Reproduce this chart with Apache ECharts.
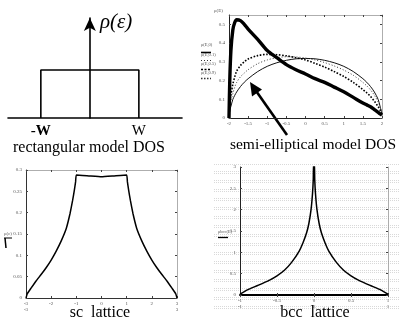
<!DOCTYPE html>
<html><head><meta charset="utf-8">
<script src="https://cdn.jsdelivr.net/npm/echarts@6/dist/echarts.min.js"></script>
<style>html,body{margin:0;padding:0;background:#fff}#c{width:400px;height:325px}</style>
</head><body><div id="c"></div><script>
// ---- data ----
// rectangular model
const rectX = [-1, -1, 1, 1];
const rectY = [0, 1, 1, 0];
const rectTickValues = [-1, 1];
const rectTickLabels = ['-W', 'W'];
// semi-elliptical model (E from -2 to 2)
const seE = [-2, -1.98, -1.95, -1.9, -1.85, -1.8, -1.7, -1.6, -1.5, -1.25, -1, -0.75, -0.5, -0.25, 0, 0.25, 0.5, 0.75, 1, 1.25, 1.5, 1.6, 1.7, 1.8, 1.9, 1.95, 2];
const seThick = [0, 0.2, 0.36, 0.47, 0.51, 0.525, 0.52, 0.5, 0.475, 0.42, 0.36, 0.322, 0.285, 0.258, 0.235, 0.21, 0.19, 0.165, 0.14, 0.11, 0.08, 0.07, 0.06, 0.045, 0.03, 0.022, 0.015];
const seDotHeavy = [0, 0.07, 0.12, 0.18, 0.22, 0.25, 0.28, 0.3, 0.315, 0.333, 0.34, 0.338, 0.332, 0.322, 0.31, 0.292, 0.272, 0.248, 0.222, 0.19, 0.152, 0.135, 0.115, 0.09, 0.06, 0.042, 0.02];
const seDotThin = [0, 0.05, 0.09, 0.13, 0.165, 0.19, 0.22, 0.24, 0.258, 0.29, 0.31, 0.322, 0.327, 0.326, 0.32, 0.31, 0.296, 0.278, 0.256, 0.228, 0.19, 0.172, 0.15, 0.122, 0.085, 0.06, 0.03];
const seSemi = [0, 0.04, 0.062, 0.099, 0.121, 0.139, 0.168, 0.191, 0.21, 0.248, 0.276, 0.295, 0.308, 0.316, 0.318, 0.316, 0.308, 0.295, 0.276, 0.248, 0.21, 0.191, 0.168, 0.139, 0.099, 0.062, 0.02];
const seTicks = ['-2', '-1.5', '-1', '-0.5', '0', '0.5', '1', '1.5', '2'];
// sc lattice (E from -3 to 3)
const scE = [-3, -2.95, -2.8, -2.6, -2.4, -2.2, -2, -1.8, -1.6, -1.4, -1.25, -1.15, -1.08, -1.03, -1, -0.5, 0, 0.5, 1, 1.03, 1.08, 1.15, 1.25, 1.4, 1.6, 1.8, 2, 2.2, 2.4, 2.6, 2.8, 2.95, 3];
const scRho = [0, 0.01, 0.023, 0.04, 0.055, 0.071, 0.089, 0.11, 0.134, 0.163, 0.198, 0.228, 0.252, 0.272, 0.288, 0.286, 0.284, 0.286, 0.288, 0.272, 0.252, 0.228, 0.198, 0.163, 0.134, 0.11, 0.089, 0.071, 0.055, 0.04, 0.023, 0.01, 0];
// bcc lattice (E from -1 to 1)
const bccE = [-1, -0.9, -0.75, -0.6, -0.5, -0.4, -0.3, -0.2, -0.15, -0.1, -0.07, -0.04, -0.02, -0.01, -0.005, 0.005, 0.01, 0.02, 0.04, 0.07, 0.1, 0.15, 0.2, 0.3, 0.4, 0.5, 0.6, 0.75, 0.9, 1];
const bccRho = [0.02, 0.12, 0.23, 0.35, 0.45, 0.58, 0.77, 1.03, 1.22, 1.46, 1.67, 2.0, 2.38, 2.7, 3.1, 3.1, 2.7, 2.38, 2.0, 1.67, 1.46, 1.22, 1.03, 0.77, 0.58, 0.45, 0.35, 0.23, 0.12, 0.02];

const zip = (a, b) => a.map((v, i) => [v, b[i]]);

// ---- halftone background pattern for bcc panel ----
const pc = document.createElement('canvas');
pc.width = 2; pc.height = 9;
const pg = pc.getContext('2d');
pg.fillStyle = 'rgba(0,0,0,0.15)';
pg.fillRect(0, 0, 1, 1);
pg.fillRect(0, 2, 1, 1);

const serif = 'Liberation Serif';
const tiny = { fontFamily: serif, fontSize: 5, color: '#555' };

function tickAxisBase(gridIndex, min, max, interval, pos) {
  return {
    type: 'value', gridIndex, min, max, interval, position: pos,
    axisLine: { show: true, onZero: false, lineStyle: { color: '#999', width: 0.8 } },
    axisTick: { show: true, inside: true, length: 2, lineStyle: { color: '#444' } },
    axisLabel: { show: false }, splitLine: { show: false }
  };
}

const chart = echarts.init(document.getElementById('c'), null, { renderer: 'canvas' });
chart.setOption({
  animation: false,
  backgroundColor: '#fff',
  grid: [
    { left: 8, top: 18, width: 174, height: 100 },
    { left: 229, top: 15, width: 153, height: 103 },
    { left: 26, top: 170, width: 151, height: 128 },
    { left: 240, top: 167, width: 148, height: 128 }
  ],
  xAxis: [
    { type: 'value', gridIndex: 0, min: -1.67, max: 1.88,
      axisLine: { show: true, onZero: true, lineStyle: { color: '#000', width: 1.6 } },
      axisTick: { show: false }, splitLine: { show: false },
      axisLabel: { show: true, customValues: rectTickValues, margin: 6,
        formatter: v => v < 0 ? '{b|' + rectTickLabels[0] + '}' : rectTickLabels[1],
        rich: { b: { fontFamily: serif, fontSize: 15, fontWeight: 'bold', color: '#000' } },
        fontFamily: serif, fontSize: 15, color: '#000' } },
    { type: 'value', gridIndex: 1, min: -2, max: 2, interval: 0.5, position: 'bottom',
      axisLine: { show: true, onZero: false, lineStyle: { color: '#222', width: 1 } },
      axisTick: { show: true, inside: true, length: 2, lineStyle: { color: '#444' } },
      splitLine: { show: false },
      axisLabel: Object.assign({ margin: 3, formatter: v => seTicks[Math.round((v + 2) / 0.5)] }, tiny) },
    tickAxisBase(1, -2, 2, 0.5, 'top'),
    { type: 'value', gridIndex: 2, min: -3, max: 3, interval: 1, position: 'bottom',
      axisLine: { show: true, onZero: false, lineStyle: { color: '#333', width: 1 } },
      axisTick: { show: true, inside: true, length: 2, lineStyle: { color: '#444' } },
      splitLine: { show: false },
      axisLabel: Object.assign({ margin: 3, lineHeight: 6,
        formatter: v => v === -3 ? '-3\n-3' : v === 3 ? '3\n3' : v === 0 ? '0\nε' : String(v) }, tiny) },
    tickAxisBase(2, -3, 3, 1, 'top'),
    { type: 'value', gridIndex: 3, min: -1, max: 1, interval: 0.5, position: 'bottom',
      axisLine: { show: true, onZero: false, lineStyle: { color: '#000', width: 2 } },
      axisTick: { show: true, inside: true, length: 2, lineStyle: { color: '#444' } },
      splitLine: { show: false },
      axisLabel: Object.assign({ margin: 3, lineHeight: 6,
        formatter: v => v === -1 ? '-1\n-1' : v === 1 ? '1\n1' : v === 0 ? '0\nE' : String(v) }, tiny) },
    Object.assign(tickAxisBase(3, -1, 1, 0.5, 'top'), { axisLine: { show: false } })
  ],
  yAxis: [
    { type: 'value', gridIndex: 0, min: 0, max: 2.083,
      axisLine: { show: true, onZero: true, symbol: ['none', 'arrow'], symbolSize: [9, 13],
        lineStyle: { color: '#000', width: 1.6 } },
      axisTick: { show: false }, axisLabel: { show: false }, splitLine: { show: false } },
    { type: 'value', gridIndex: 1, min: 0, max: 0.55, interval: 0.1, position: 'left',
      name: 'ρ(E)', nameGap: 2, nameTextStyle: Object.assign({ align: 'right', padding: [0, 6, 0, 0] }, tiny),
      axisLine: { show: true, onZero: false, lineStyle: { color: '#222', width: 1 } },
      axisTick: { show: true, inside: true, length: 2, lineStyle: { color: '#444' } },
      splitLine: { show: false },
      axisLabel: Object.assign({ margin: 4, showMaxLabel: false }, tiny) },
    tickAxisBase(1, 0, 0.55, 0.1, 'right'),
    { type: 'value', gridIndex: 2, min: 0, max: 0.3, interval: 0.05, position: 'left',
      axisLine: { show: true, onZero: false, lineStyle: { color: '#333', width: 1 } },
      axisTick: { show: true, inside: true, length: 2, lineStyle: { color: '#444' } },
      splitLine: { show: false },
      axisLabel: Object.assign({ margin: 4 }, tiny) },
    tickAxisBase(2, 0, 0.3, 0.05, 'right'),
    { type: 'value', gridIndex: 3, min: 0, max: 3, interval: 0.5, position: 'left',
      axisLine: { show: true, onZero: false, lineStyle: { color: '#222', width: 1 } },
      axisTick: { show: true, inside: true, length: 2, lineStyle: { color: '#444' } },
      splitLine: { show: false },
      axisLabel: Object.assign({ margin: 4 }, tiny) },
    tickAxisBase(3, 0, 3, 0.5, 'right')
  ],
  series: [
    { type: 'line', xAxisIndex: 0, yAxisIndex: 0, data: zip(rectX, rectY), symbol: 'none',
      lineStyle: { color: '#000', width: 1.6 }, z: 3 },
    { type: 'line', xAxisIndex: 1, yAxisIndex: 1, data: zip(seE, seSemi), symbol: 'none', smooth: 0.3,
      lineStyle: { color: '#111', width: 1 } },
    { type: 'line', xAxisIndex: 1, yAxisIndex: 1, data: zip(seE, seDotThin), symbol: 'none', smooth: 0.3,
      lineStyle: { color: '#222', width: 0.9, type: [1, 2] } },
    { type: 'line', xAxisIndex: 1, yAxisIndex: 1, data: zip(seE, seDotHeavy), symbol: 'none', smooth: 0.3,
      lineStyle: { color: '#000', width: 1.6, type: [1.6, 1.6] } },
    { type: 'line', xAxisIndex: 1, yAxisIndex: 1, data: zip(seE, seThick), symbol: 'none', smooth: 0.3,
      lineStyle: { color: '#000', width: 3.4 } },
    { type: 'line', xAxisIndex: 3, yAxisIndex: 3, data: zip(scE, scRho), symbol: 'none', smooth: 0.1,
      lineStyle: { color: '#000', width: 1.5 } },
    { type: 'line', xAxisIndex: 5, yAxisIndex: 5, data: zip(bccE, bccRho), symbol: 'none', smooth: 0.2, clip: true,
      lineStyle: { color: '#000', width: 1.5 } }
  ],
  graphic: [
    { type: 'rect', z: -10, silent: true, shape: { x: 213, y: 163, width: 187, height: 147 },
      style: { fill: { image: pc, repeat: 'repeat' } } },
    { type: 'text', left: 100, top: 12, style: { text: 'ρ(ε)', fontFamily: serif, fontStyle: 'italic', fontSize: 21, fill: '#000' } },
    { type: 'text', x: 89, y: 148, style: { text: 'rectangular model DOS', fontFamily: serif, fontSize: 16, fill: '#000', align: 'center', verticalAlign: 'middle' } },
    { type: 'text', x: 313, y: 145, style: { text: 'semi-elliptical model DOS', fontFamily: serif, fontSize: 15.5, fill: '#000', align: 'center', verticalAlign: 'middle' } },
    { type: 'text', x: 100, y: 313, style: { text: 'sc  lattice', fontFamily: serif, fontSize: 16, fill: '#000', align: 'center', verticalAlign: 'middle' } },
    { type: 'text', x: 315, y: 313, style: { text: 'bcc  lattice', fontFamily: serif, fontSize: 16, fill: '#000', align: 'center', verticalAlign: 'middle' } },
    // arrow in semi-elliptical panel
    { type: 'line', shape: { x1: 287, y1: 135, x2: 254, y2: 88 }, style: { stroke: '#000', lineWidth: 2.6 } },
    { type: 'polygon', shape: { points: [[250, 82], [262, 89.5], [252, 96.5]] }, style: { fill: '#000' } },
    // legend of semi-elliptical panel
    { type: 'text', x: 201, y: 45, style: { text: 'ρ(E,0)', verticalAlign: 'middle', fill: '#555', fontSize: 4.5, fontFamily: serif } },
    { type: 'line', shape: { x1: 201, y1: 52.5, x2: 211, y2: 52.5 }, style: { stroke: '#000', lineWidth: 1.6 } },
    { type: 'text', x: 201, y: 55, style: { text: 'ρ(E,0.1)', verticalAlign: 'middle', fill: '#555', fontSize: 4.5, fontFamily: serif } },
    { type: 'line', shape: { x1: 201, y1: 60.5, x2: 211, y2: 60.5 }, style: { stroke: '#333', lineWidth: 1, lineDash: [1, 2] } },
    { type: 'text', x: 201, y: 64, style: { text: 'ρ(E,0.5)', verticalAlign: 'middle', fill: '#555', fontSize: 4.5, fontFamily: serif } },
    { type: 'line', shape: { x1: 201, y1: 69.5, x2: 211, y2: 69.5 }, style: { stroke: '#000', lineWidth: 1.3, lineDash: [2, 1.5] } },
    { type: 'text', x: 201, y: 73, style: { text: 'ρ(E,0.9)', verticalAlign: 'middle', fill: '#555', fontSize: 4.5, fontFamily: serif } },
    { type: 'line', shape: { x1: 201, y1: 78.5, x2: 211, y2: 78.5 }, style: { stroke: '#333', lineWidth: 1.6, lineDash: [1.5, 1.5] } },
    // sc legend
    { type: 'text', x: 4, y: 234, style: { text: 'ρ(ε)', verticalAlign: 'middle', fill: '#555', fontSize: 5, fontFamily: serif } },
    { type: 'line', shape: { x1: 4, y1: 238, x2: 12, y2: 238 }, style: { stroke: '#000', lineWidth: 1 } },
    { type: 'line', shape: { x1: 5, y1: 238, x2: 6, y2: 248 }, style: { stroke: '#000', lineWidth: 1.5 } },
    // bcc legend
    { type: 'text', x: 218, y: 232, style: { text: 'ρbcc(E)', verticalAlign: 'middle', fill: '#555', fontSize: 4.5, fontFamily: serif } },
    { type: 'line', shape: { x1: 218, y1: 237.5, x2: 228, y2: 237.5 }, style: { stroke: '#000', lineWidth: 1.3 } }
  ]
});
</script></body></html>
